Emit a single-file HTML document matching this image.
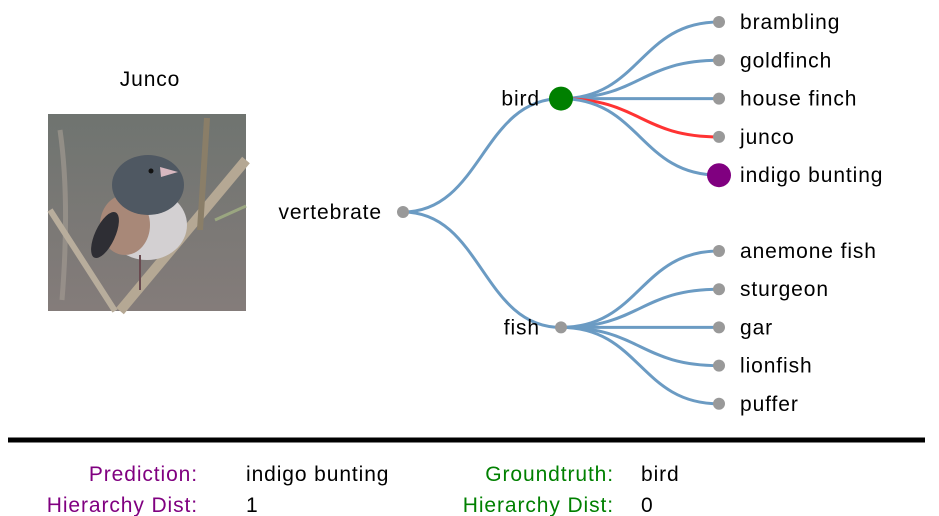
<!DOCTYPE html>
<html><head><meta charset="utf-8"><style>
body{margin:0;background:#fff;width:939px;height:516px;overflow:hidden;font-family:"Liberation Sans",sans-serif}
svg{position:absolute;left:0;top:0}
text{letter-spacing:0.9px}
</style></head><body>
<svg width="939" height="516">
<text x="150" y="86" font-size="21" text-anchor="middle">Junco</text>
<g>
<defs><linearGradient id="bg" x1="0" y1="0" x2="0" y2="1"><stop offset="0" stop-color="#6f7470"/><stop offset="1" stop-color="#847c7a"/></linearGradient></defs>
<rect x="48" y="114" width="198" height="197" fill="url(#bg)"/>
<path d="M60 130 Q70 200 62 300" stroke="#a09890" stroke-width="5" fill="none" opacity="0.7"/>
<path d="M50 210 L115 311" stroke="#b8ad9c" stroke-width="6" fill="none"/>
<path d="M120 311 L246 160" stroke="#b5a894" stroke-width="10" fill="none"/>
<path d="M207 118 L200 230" stroke="#8a7e68" stroke-width="6" fill="none"/>
<path d="M215 220 L246 206" stroke="#9aa680" stroke-width="3" fill="none"/>
<ellipse cx="147" cy="225" rx="40" ry="35" fill="#d3d0d2"/>
<ellipse cx="125" cy="225" rx="25" ry="30" fill="#a88878"/>
<ellipse cx="105" cy="235" rx="10" ry="25" fill="#2e2e34" transform="rotate(25 105 235)"/>
<ellipse cx="148" cy="185" rx="36" ry="30" fill="#4f5862"/>
<path d="M160 167 L178 172 L161 177 Z" fill="#d8b8c0"/>
<circle cx="151" cy="171" r="2.5" fill="#111"/>
<path d="M140 255 L140 290" stroke="#6a4a50" stroke-width="2"/>
</g>
<g id="links"></g><g id="nodes"></g>
<line x1="8" y1="440" x2="925" y2="440" stroke="#000" stroke-width="5"/>
<g font-size="21">
<text x="198" y="481" text-anchor="end" fill="#800080">Prediction:</text>
<text x="246" y="481">indigo bunting</text>
<text x="198" y="512" text-anchor="end" fill="#800080">Hierarchy Dist:</text>
<text x="246" y="512">1</text>
<text x="614" y="481" text-anchor="end" fill="#008000">Groundtruth:</text>
<text x="641" y="481">bird</text>
<text x="614" y="512" text-anchor="end" fill="#008000">Hierarchy Dist:</text>
<text x="641" y="512">0</text>
</g>
</svg>
<script>
const birdLeaves=["brambling","goldfinch","house finch","junco","indigo bunting"];
const fishLeaves=["anemone fish","sturgeon","gar","lionfish","puffer"];
const groundtruth="bird";
const prediction="indigo bunting";
const actual="junco";
const NS="http://www.w3.org/2000/svg";
const L=document.getElementById('links'),N=document.getElementById('nodes');
const depthX=[403,561,719];
function leafY(group,i){return group===0?22+i*38.3:251+i*38.2;}
function mk(t,a){const e=document.createElementNS(NS,t);for(const k in a)e.setAttribute(k,a[k]);return e;}
function link(x0,y0,x1,y1,col,name){const m=(x0+x1)/2;
const p=mk('path',{d:`M${x0},${y0}C${m},${y0} ${m},${y1} ${x1},${y1}`,fill:'none',stroke:col,'stroke-width':3});


L.appendChild(p);}
function node(x,y,r,col,label,anchor,name){
const c=mk('circle',{cx:x,cy:y,r:r,fill:col});


N.appendChild(c);
const t=mk('text',{x:anchor==='end'?x-21:x+21,y:y+7,'font-size':21,'text-anchor':anchor});
t.textContent=label;


N.appendChild(t);}
const groups=[["bird",birdLeaves],["fish",fishLeaves]];
const rootY=212;
const gy=groups.map((g,gi)=>{const ys=g[1].map((_,i)=>leafY(gi,i));return ys[2];});
groups.forEach((g,gi)=>{
 link(depthX[0],rootY,depthX[1],gy[gi],'#6b9bc3','link-vertebrate-'+g[0]);
 g[1].forEach((lf,i)=>{const y=leafY(gi,i);
  link(depthX[1],gy[gi],depthX[2],y,lf===actual?'#ff3333':'#6b9bc3','link-'+g[0]+'-'+lf.replace(/ /g,'-'));});
});
node(depthX[0],rootY,6,'#999','vertebrate','end','vertebrate');
groups.forEach((g,gi)=>{
 const isGt=g[0]===groundtruth;
 node(depthX[1],gy[gi],isGt?12:6,isGt?'#008000':'#999',g[0],'end',g[0]);
 g[1].forEach((lf,i)=>{const y=leafY(gi,i);const isP=lf===prediction;
  node(depthX[2],y,isP?12:6,isP?'#800080':'#999',lf,'start',lf.replace(/ /g,'-'));});
});
</script>
</body></html>
